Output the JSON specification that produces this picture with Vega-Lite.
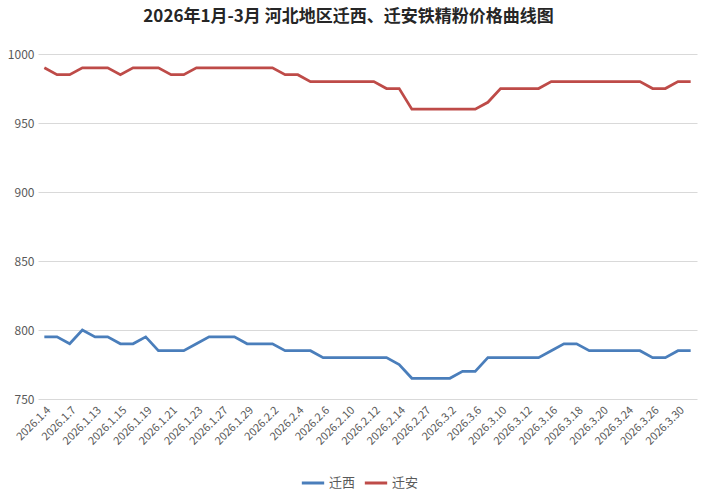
{
  "$schema": "https://vega.github.io/schema/vega-lite/v6.json",
  "autosize": {"type": "none"},
  "width": 659,
  "height": 345,
  "padding": {"left": 38, "top": 54, "right": 13, "bottom": 101},
  "background": "white",
  "title": {
    "text": "2026年1月-3月 河北地区迁西、迁安铁精粉价格曲线图",
    "font": "Noto Sans CJK SC",
    "fontSize": 17,
    "fontWeight": "bold",
    "color": "#262626",
    "anchor": "middle",
    "offset": 22,
    "dx": -19
  },
  "config": {
    "view": {"stroke": null},
    "font": "Noto Sans CJK SC"
  },
  "data": {
    "values": [
      {"date": "2026.1.4", "迁西": 795, "迁安": 990},
      {"date": "2026.1.5", "迁西": 795, "迁安": 985},
      {"date": "2026.1.7", "迁西": 790, "迁安": 985},
      {"date": "2026.1.8", "迁西": 800, "迁安": 990},
      {"date": "2026.1.13", "迁西": 795, "迁安": 990},
      {"date": "2026.1.14", "迁西": 795, "迁安": 990},
      {"date": "2026.1.15", "迁西": 790, "迁安": 985},
      {"date": "2026.1.16", "迁西": 790, "迁安": 990},
      {"date": "2026.1.19", "迁西": 795, "迁安": 990},
      {"date": "2026.1.20", "迁西": 785, "迁安": 990},
      {"date": "2026.1.21", "迁西": 785, "迁安": 985},
      {"date": "2026.1.22", "迁西": 785, "迁安": 985},
      {"date": "2026.1.23", "迁西": 790, "迁安": 990},
      {"date": "2026.1.26", "迁西": 795, "迁安": 990},
      {"date": "2026.1.27", "迁西": 795, "迁安": 990},
      {"date": "2026.1.28", "迁西": 795, "迁安": 990},
      {"date": "2026.1.29", "迁西": 790, "迁安": 990},
      {"date": "2026.1.30", "迁西": 790, "迁安": 990},
      {"date": "2026.2.2", "迁西": 790, "迁安": 990},
      {"date": "2026.2.3", "迁西": 785, "迁安": 985},
      {"date": "2026.2.4", "迁西": 785, "迁安": 985},
      {"date": "2026.2.5", "迁西": 785, "迁安": 980},
      {"date": "2026.2.6", "迁西": 780, "迁安": 980},
      {"date": "2026.2.9", "迁西": 780, "迁安": 980},
      {"date": "2026.2.10", "迁西": 780, "迁安": 980},
      {"date": "2026.2.11", "迁西": 780, "迁安": 980},
      {"date": "2026.2.12", "迁西": 780, "迁安": 980},
      {"date": "2026.2.13", "迁西": 780, "迁安": 975},
      {"date": "2026.2.14", "迁西": 775, "迁安": 975},
      {"date": "2026.2.26", "迁西": 765, "迁安": 960},
      {"date": "2026.2.27", "迁西": 765, "迁安": 960},
      {"date": "2026.2.28", "迁西": 765, "迁安": 960},
      {"date": "2026.3.2", "迁西": 765, "迁安": 960},
      {"date": "2026.3.3", "迁西": 770, "迁安": 960},
      {"date": "2026.3.6", "迁西": 770, "迁安": 960},
      {"date": "2026.3.9", "迁西": 780, "迁安": 965},
      {"date": "2026.3.10", "迁西": 780, "迁安": 975},
      {"date": "2026.3.11", "迁西": 780, "迁安": 975},
      {"date": "2026.3.12", "迁西": 780, "迁安": 975},
      {"date": "2026.3.13", "迁西": 780, "迁安": 975},
      {"date": "2026.3.16", "迁西": 785, "迁安": 980},
      {"date": "2026.3.17", "迁西": 790, "迁安": 980},
      {"date": "2026.3.18", "迁西": 790, "迁安": 980},
      {"date": "2026.3.19", "迁西": 785, "迁安": 980},
      {"date": "2026.3.20", "迁西": 785, "迁安": 980},
      {"date": "2026.3.23", "迁西": 785, "迁安": 980},
      {"date": "2026.3.24", "迁西": 785, "迁安": 980},
      {"date": "2026.3.25", "迁西": 785, "迁安": 980},
      {"date": "2026.3.26", "迁西": 780, "迁安": 975},
      {"date": "2026.3.27", "迁西": 780, "迁安": 975},
      {"date": "2026.3.30", "迁西": 785, "迁安": 980},
      {"date": "2026.3.31", "迁西": 785, "迁安": 980}
    ]
  },
  "transform": [
    {"fold": ["迁西", "迁安"], "as": ["series", "price"]}
  ],
  "mark": {"type": "line", "strokeWidth": 2.75, "strokeJoin": "miter"},
  "encoding": {
    "x": {
      "field": "date",
      "type": "ordinal",
      "sort": null,
      "scale": {"type": "point", "padding": 0.5},
      "axis": {
        "title": null,
        "values": ["2026.1.4", "2026.1.7", "2026.1.13", "2026.1.15", "2026.1.19", "2026.1.21", "2026.1.23", "2026.1.27", "2026.1.29", "2026.2.2", "2026.2.4", "2026.2.6", "2026.2.10", "2026.2.12", "2026.2.14", "2026.2.27", "2026.3.2", "2026.3.6", "2026.3.10", "2026.3.12", "2026.3.16", "2026.3.18", "2026.3.20", "2026.3.24", "2026.3.26", "2026.3.30"],
        "labelAngle": -45,
        "labelAlign": "right",
        "labelBaseline": "top",
        "labelFontSize": 11,
        "labelColor": "#595959",
        "labelPadding": 5,
        "ticks": false,
        "domain": false,
        "grid": false
      }
    },
    "y": {
      "field": "price",
      "type": "quantitative",
      "scale": {"domain": [750, 1000], "zero": false, "nice": false},
      "axis": {
        "title": null,
        "values": [750, 800, 850, 900, 950, 1000],
        "format": "d",
        "labelFontSize": 12,
        "labelColor": "#595959",
        "labelPadding": 4,
        "ticks": false,
        "domain": false,
        "grid": true,
        "gridColor": "#D9D9D9",
        "gridWidth": 1
      }
    },
    "color": {
      "field": "series",
      "type": "nominal",
      "scale": {"domain": ["迁西", "迁安"], "range": ["#4A7EBB", "#BE4B48"]},
      "legend": {
        "title": null,
        "orient": "none",
        "direction": "horizontal",
        "legendX": 262,
        "legendY": 416,
        "symbolType": "stroke",
        "symbolSize": 500,
        "symbolStrokeWidth": 3,
        "symbolOffset": 0,
        "labelFontSize": 13,
        "labelColor": "#595959",
        "labelOffset": 3,
        "columnPadding": 2
      }
    }
  }
}
